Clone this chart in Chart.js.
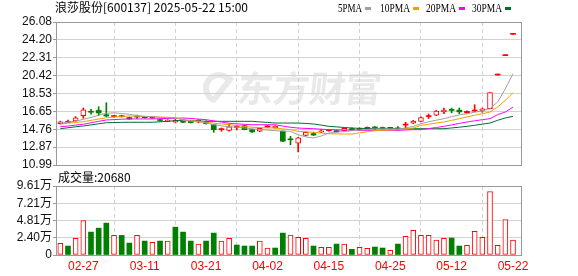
<!DOCTYPE html>
<html><head><meta charset="utf-8">
<script src="https://cdn.jsdelivr.net/npm/chart.js@4.4.1/dist/chart.umd.min.js"></script>
<style>
html,body{margin:0;padding:0;background:#fff;overflow:hidden}
#wrap{position:relative;width:578px;height:276px;background:#fff}
#main{position:absolute;left:0;top:0}
#vol{position:absolute;left:0;top:170px}
</style></head><body>
<div id="wrap"><canvas id="main" width="578" height="175"></canvas><canvas id="vol" width="578" height="106"></canvas></div>
<script>
// ---- data ----
const stockName = '浪莎股份';
const stockCode = '600137';
const stamp = '2025-05-22 15:00';
const dates = ['02-24','02-25','02-26','02-27','02-28','03-03','03-04','03-05','03-06','03-07',
 '03-10','03-11','03-12','03-13','03-14','03-17','03-18','03-19','03-20','03-21',
 '03-24','03-25','03-26','03-27','03-28','03-31','04-01','04-02','04-03','04-07',
 '04-08','04-09','04-10','04-11','04-14','04-15','04-16','04-17','04-18','04-21',
 '04-22','04-23','04-24','04-25','04-28','04-29','04-30','05-06','05-07','05-08',
 '05-09','05-12','05-13','05-14','05-15','05-16','05-19','05-20','05-21','05-22'];
const tickDates = ['02-27','03-11','03-21','04-02','04-15','04-25','05-12','05-22'];
const open  = [15.35,15.48,15.65,16.20,16.62,16.75,16.30,16.10,16.20,16.00,
 16.08,16.00,15.95,15.78,15.58,15.52,15.75,15.70,15.50,15.60,
 15.25,14.72,14.65,14.95,15.15,14.72,14.55,14.98,14.92,14.55,
 13.72,13.30,14.10,14.30,14.45,14.60,14.62,14.60,14.82,14.72,
 14.76,14.95,14.95,14.92,14.85,15.20,15.40,15.60,16.10,16.25,
 16.60,16.80,16.78,16.50,16.68,16.70,16.93,20.48,22.53,24.78];
const high  = [15.62,15.72,16.10,17.00,16.87,17.14,17.56,16.22,16.24,16.05,
 16.26,16.10,16.10,15.82,15.78,15.80,15.78,15.72,15.80,15.65,
 15.28,14.90,15.30,15.20,15.20,14.75,14.88,15.15,15.12,14.58,
 14.02,13.90,14.50,14.45,14.72,14.70,14.68,14.90,14.92,14.92,
 15.00,15.05,15.00,14.98,15.05,15.50,15.70,16.06,16.38,16.75,
 17.00,17.00,17.00,16.70,17.35,17.00,18.62,20.48,22.53,24.78];
const low   = [15.30,15.45,15.60,15.92,16.35,16.20,16.10,16.05,16.05,15.82,
 15.90,15.92,15.90,15.62,15.55,15.48,15.45,15.42,15.45,15.30,
 14.45,14.55,14.55,14.70,14.70,14.42,14.50,14.95,14.88,13.45,
 13.13,12.36,14.05,14.10,14.40,14.55,14.45,14.58,14.62,14.62,
 14.72,14.70,14.80,14.78,14.65,14.90,15.35,15.55,15.90,16.20,
 16.40,16.50,16.40,16.40,16.65,16.55,16.90,20.48,22.53,24.78];
const close = [15.55,15.52,15.98,16.80,16.56,16.48,16.16,16.20,16.08,15.85,
 16.05,15.98,16.05,15.68,15.74,15.70,15.50,15.46,15.72,15.35,
 14.72,14.76,15.03,15.00,14.72,14.48,14.85,15.12,15.08,13.50,
 13.65,13.85,14.45,14.15,14.60,14.65,14.50,14.85,14.70,14.80,
 14.97,14.90,14.83,14.86,14.80,15.30,15.63,16.00,16.15,16.68,
 16.78,16.75,16.60,16.65,16.78,16.93,18.62,20.48,22.53,24.78];
const ma5  = [15.39,15.50,15.62,15.81,16.00,16.25,16.45,16.50,16.42,16.34,
 16.20,16.12,16.09,16.02,15.98,15.98,15.70,15.62,15.58,15.42,
 15.25,15.12,15.03,14.98,14.90,14.81,14.75,14.68,14.61,14.58,
 14.54,14.18,13.95,13.84,14.05,14.36,14.45,14.52,14.61,14.68,
 14.74,14.79,14.80,14.80,14.79,14.90,15.07,15.35,15.55,15.72,
 15.88,16.10,16.28,16.40,16.55,16.70,16.93,17.64,19.04,20.62];
const ma10 = [15.32,15.40,15.48,15.56,15.70,15.84,15.98,16.05,16.10,16.16,
 16.14,16.12,16.09,16.05,16.02,15.98,15.77,15.68,15.60,15.50,
 15.40,15.32,15.24,15.15,15.06,14.97,14.94,14.91,14.89,14.80,
 14.72,14.54,14.49,14.44,14.36,14.29,14.27,14.26,14.26,14.38,
 14.50,14.61,14.65,14.69,14.72,14.80,14.89,15.17,15.30,15.42,
 15.53,15.70,15.88,16.06,16.24,16.40,16.58,17.11,17.82,18.62];
const ma20 = [15.03,15.10,15.20,15.29,15.45,15.60,15.74,15.78,15.82,15.85,
 15.85,15.85,15.85,15.88,15.90,15.92,15.95,15.90,15.84,15.77,
 15.65,15.52,15.39,15.33,15.28,15.24,15.24,15.24,15.24,15.10,
 14.97,14.89,14.85,14.82,14.77,14.72,14.70,14.67,14.65,14.65,
 14.65,14.65,14.65,14.65,14.65,14.68,14.72,14.72,14.83,14.95,
 15.07,15.22,15.38,15.53,15.65,15.77,15.88,16.30,16.58,17.11];
const ma30 = [14.82,14.92,15.02,15.11,15.22,15.34,15.45,15.47,15.49,15.50,
 15.50,15.50,15.50,15.55,15.60,15.66,15.71,15.68,15.64,15.60,
 15.60,15.60,15.60,15.60,15.60,15.60,15.54,15.48,15.42,15.42,
 15.42,15.42,15.37,15.32,15.20,15.07,15.01,14.95,14.89,14.86,
 14.84,14.82,14.82,14.82,14.82,14.82,14.82,14.82,14.82,14.82,
 14.82,14.90,14.98,15.07,15.18,15.30,15.42,15.71,15.95,16.13];
const volume = [16200,12500,23100,48100,31900,37400,44400,27300,27300,16600,
 27300,19400,17600,19400,19400,38800,31900,19400,15200,19400,
 30500,19400,23100,13900,12500,12500,19400,9700,9700,30500,
 27700,24500,23100,12500,10600,10600,15200,15200,7900,10600,
 9200,11100,9700,6500,15200,25900,34200,27300,27300,20800,
 23100,23600,12500,13400,32800,24500,88300,13400,49400,20680];
const priceTicks = [10.99,12.87,14.76,16.65,18.53,20.42,22.31,24.20,26.08];
const volTicks = [0,24025,48050,72075,96100];
const volTickLabels = ['0','2.40万','4.81万','7.21万','9.61万'];
const maNames = ['5PMA','10PMA','20PMA','30PMA'];

// ---- styles ----
const UP = '#ff0000', DOWN = '#008000';
const maColors = ['#a0a0a0','#f0a000','#ff00ff','#006f2e'];
const GRID = '#d2d2d2', FRAME = '#9a9a9a';
const X_MIN = -0.56, X_MAX = 60.17;
const N = dates.length;
const dir = close.map((c,i)=> c>open[i]?1 : c<open[i]?-1 : ((i===0||c>=close[i-1])?1:-1));
const cColor = dir.map(d=> d>0?UP:DOWN);
const hollow = close.map((c,i)=> dir[i]>0 && (c-open[i])>=0.15);
const vColor = close.map((c,i)=> (i===0 ? dir[0]>0 : c>=close[i-1]) ? UP : DOWN);
const tickIdx = tickDates.map(t=>dates.indexOf(t));
const labelFont = {family:"'Liberation Sans','Noto Sans CJK SC',sans-serif", size:12};

const framePlugin = {
  id:'frame',
  afterDatasetsDraw(chart){
    const {ctx, chartArea:a} = chart;
    ctx.save();
    ctx.strokeStyle = FRAME; ctx.lineWidth = 1;
    ctx.strokeRect(Math.round(a.left)+0.5, Math.round(a.top)+0.5,
      Math.round(a.right)-Math.round(a.left)-1, Math.round(a.bottom)-Math.round(a.top));
    ctx.restore();
  }
};

const headerPlugin = {
  id:'header',
  beforeDraw(chart){
    const ctx = chart.ctx;
    ctx.save();
    // watermark
    ctx.fillStyle = '#e9e9e9';
    ctx.strokeStyle = '#e9e9e9';
    ctx.lineWidth = 6;
    ctx.beginPath(); ctx.arc(219, 88, 13, 0.6*Math.PI, 1.8*Math.PI); ctx.stroke();
    ctx.beginPath(); ctx.moveTo(213, 101); ctx.lineTo(232, 77); ctx.stroke();
    ctx.setTransform(1,0,-0.12,1,0,0);
    ctx.font = "bold 36px 'Noto Sans CJK SC'";
    ctx.textBaseline = 'middle';
    ctx.fillText('东方财富', 248, 88);
    ctx.restore();
  },
  afterDraw(chart){
    const ctx = chart.ctx;
    ctx.save();
    ctx.fillStyle = '#000';
    ctx.textBaseline = 'alphabetic';
    ctx.font = "12px 'Noto Sans CJK SC'";
    ctx.fillText(stockName + '[' + stockCode + '] ' + stamp, 55, 12);
    // legend: label then colour swatch
    const starts = [338, 380, 426, 472];
    ctx.font = "12px 'Liberation Serif'";
    maNames.forEach((name, k) => {
      const target = name.length*6;
      const w = ctx.measureText(name).width;
      ctx.save();
      ctx.translate(starts[k], 12);
      ctx.scale(target/w, 1);
      ctx.fillStyle = '#000';
      ctx.fillText(name, 0, 0);
      ctx.restore();
      ctx.fillStyle = maColors[k];
      ctx.fillRect(starts[k]+target+3, 7, 6, 3);
    });
    ctx.restore();
  }
};

const volTitlePlugin = {
  id:'voltitle',
  afterDraw(chart){
    const ctx = chart.ctx;
    ctx.save();
    ctx.fillStyle = '#000';
    ctx.font = "12px 'Noto Sans CJK SC'";
    ctx.textBaseline = 'alphabetic';
    ctx.fillText('成交量:' + volume[N-1], 58, 12);
    ctx.restore();
  }
};

const xScaleBase = (showLabels) => ({
  type:'linear', min:X_MIN, max:X_MAX, offset:false,
  afterBuildTicks: s => { s.ticks = tickIdx.map(v=>({value:v})); },
  grid:{color:GRID, drawTicks:false, lineWidth:1},
  border:{display:false, dash:[4,3]},
  ticks: showLabels ? {
    display:true, autoSkip:false, maxRotation:0, padding:4,
    color:'#ff0000', font:labelFont,
    callback: v => dates[Math.round(v)]
  } : {display:false},
  afterFit: s => { s.height = showLabels ? 21 : 0; }
});

Chart.defaults.animation = false;

new Chart(document.getElementById('main'), {
  type:'bar',
  data:{ datasets:[
    { type:'line', label:maNames[0], data:ma5.map((v,i)=>({x:i,y:v})), borderColor:maColors[0], borderWidth:1, pointRadius:0, tension:0, order:1 },
    { type:'line', label:maNames[1], data:ma10.map((v,i)=>({x:i,y:v})), borderColor:maColors[1], borderWidth:1, pointRadius:0, tension:0, order:1 },
    { type:'line', label:maNames[2], data:ma20.map((v,i)=>({x:i,y:v})), borderColor:maColors[2], borderWidth:1, pointRadius:0, tension:0, order:1 },
    { type:'line', label:maNames[3], data:ma30.map((v,i)=>({x:i,y:v})), borderColor:maColors[3], borderWidth:1, pointRadius:0, tension:0, order:1 },
    { label:'body', data:dates.map((d,i)=>({x:i, y:[Math.min(open[i],close[i]), Math.max(open[i],close[i])]})),
      backgroundColor: dates.map((d,i)=> hollow[i] ? '#ffffff' : cColor[i]),
      borderColor: cColor, borderWidth: dates.map((d,i)=> hollow[i]?1:0), borderSkipped:false,
      barThickness:5, minBarLength:1, grouped:false, order:2 },
    { label:'wick', data:dates.map((d,i)=>({x:i, y:[low[i], high[i]]})),
      backgroundColor: cColor, borderWidth:0, barThickness:1, minBarLength:1, grouped:false, order:3 }
  ]},
  options:{
    responsive:false, devicePixelRatio:1, animation:false,
    layout:{padding:{left:0, right:56, top:22, bottom:10}},
    plugins:{legend:{display:false}, tooltip:{enabled:false}},
    scales:{
      x: xScaleBase(false),
      y: { min:10.99, max:26.08,
        afterBuildTicks: s => { s.ticks = priceTicks.map(v=>({value:v})); },
        ticks:{ autoSkip:false, callback: v => v.toFixed(2), color:'#111', font:labelFont, padding:1 },
        grid:{ color:GRID, tickLength:3, tickColor:'#999' },
        border:{ display:false },
        afterFit: s => { s.width = 56; } }
    }
  },
  plugins:[headerPlugin, framePlugin]
});

new Chart(document.getElementById('vol'), {
  type:'bar',
  data:{ datasets:[
    { label:'成交量', data:volume.map((v,i)=>({x:i,y:v})),
      backgroundColor: vColor.map(c=> c===UP ? '#ffffff' : DOWN),
      borderColor: vColor, borderWidth: vColor.map(c=> c===UP?1:0), borderSkipped:false,
      barThickness:5, grouped:false }
  ]},
  options:{
    responsive:false, devicePixelRatio:1, animation:false,
    layout:{padding:{left:0, right:56, top:16, bottom:0}},
    plugins:{legend:{display:false}, tooltip:{enabled:false}},
    scales:{
      x: xScaleBase(true),
      y: { min:0, max:volTicks[volTicks.length-1],
        afterBuildTicks: s => { s.ticks = volTicks.map(v=>({value:v})); },
        ticks:{ autoSkip:false, callback:(v,idx)=> volTickLabels[idx], color:'#111', font:labelFont, padding:1 },
        grid:{ color:GRID, tickLength:3, tickColor:'#999' },
        border:{ display:false },
        afterFit: s => { s.width = 56; } }
    }
  },
  plugins:[volTitlePlugin, framePlugin]
});
</script>
</body></html>
